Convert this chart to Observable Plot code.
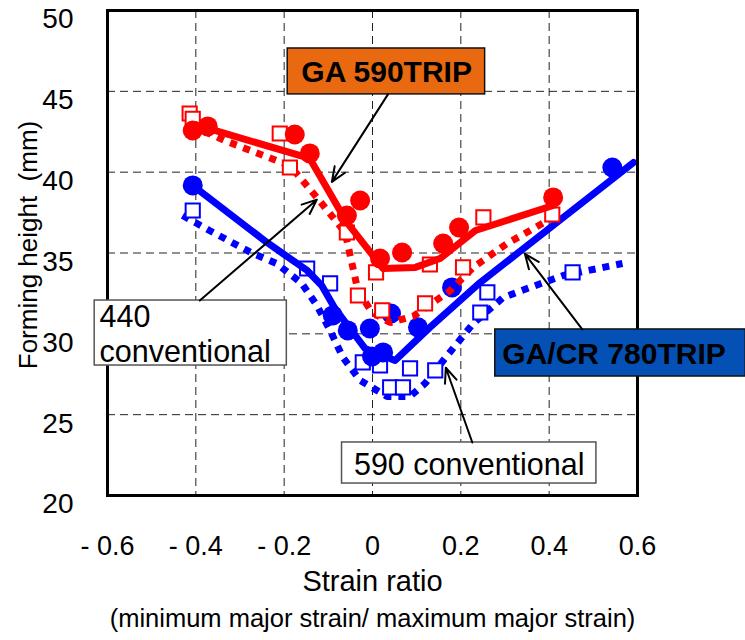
<!DOCTYPE html>
<html>
<head>
<meta charset="utf-8">
<script src="https://cdn.jsdelivr.net/npm/d3@7"></script>
<script src="https://cdn.jsdelivr.net/npm/@observablehq/plot@0.6"></script>
<style>
  html, body { margin: 0; padding: 0; background: #fff; }
  #chart { width: 745px; height: 640px; }
</style>
</head>
<body>
<div id="chart"></div>
<script>
// ---- Axis ticks ----
const xTicks = [-0.6, -0.4, -0.2, 0, 0.2, 0.4, 0.6];
const xTickLabels = ["- 0.6", "- 0.4", "- 0.2", "0", "0.2", "0.4", "0.6"];
const yTicks = [20, 25, 30, 35, 40, 45, 50];

// ---- GA 590TRIP (red, filled circles + solid trend line) ----
const ga590PointsX = [-0.407, -0.373, -0.176, -0.142, -0.058, -0.028, 0.017, 0.067, 0.160, 0.196, 0.409];
const ga590PointsY = [42.58, 42.83, 42.33, 41.16, 37.32, 38.25, 34.66, 35.03, 35.59, 36.58, 38.44];
const ga590LineX = [-0.403, -0.142, -0.058, 0.024, 0.097, 0.153, 0.233, 0.409];
const ga590LineY = [42.95, 40.85, 36.89, 34.04, 34.11, 34.66, 36.39, 37.94];

// ---- 440 conventional (red, open squares + dotted line) ----
const c440PointsX = [-0.414, -0.407, -0.210, -0.187, -0.058, -0.033, 0.008, 0.022, 0.119, 0.130, 0.205, 0.251, 0.407];
const c440PointsY = [43.63, 43.30, 42.39, 40.29, 36.27, 32.37, 33.80, 31.45, 31.88, 34.29, 34.11, 37.20, 37.38];
const c440LineX = [-0.409, -0.335, -0.187, -0.124, -0.062, -0.033, -0.001, 0.040, 0.092, 0.176, 0.228, 0.305, 0.425];
const c440LineY = [42.89, 41.96, 40.41, 38.37, 36.27, 32.68, 31.32, 30.70, 31.08, 32.68, 34.11, 35.59, 37.45];

// ---- GA/CR 780TRIP (blue, filled circles + solid trend line) ----
const ga780PointsX = [-0.407, -0.090, -0.056, -0.006, 0.042, 0.103, -0.001, 0.024, 0.180, 0.543];
const ga780PointsY = [39.18, 31.14, 30.21, 30.33, 31.26, 30.40, 28.60, 28.85, 32.87, 40.29];
const ga780LineX = [-0.407, -0.239, -0.148, -0.115, -0.085, -0.051, -0.017, 0.051, 0.130, 0.244, 0.591];
const ga780LineY = [39.18, 35.65, 33.92, 32.99, 31.57, 30.33, 29.10, 28.35, 30.40, 33.18, 40.60];

// ---- 590 conventional (blue, open squares + dotted line) ----
const c590PointsX = [-0.407, -0.148, -0.096, -0.022, 0.017, 0.040, 0.069, 0.085, 0.142, 0.244, 0.260, 0.453];
const c590PointsY = [37.63, 34.04, 33.12, 28.23, 28.04, 26.69, 26.69, 27.86, 27.74, 31.32, 32.56, 33.80];
const c590LineX = [-0.430, -0.369, -0.271, -0.217, -0.160, -0.126, -0.096, -0.067, -0.028, 0.033, 0.085, 0.119, 0.164, 0.228, 0.296, 0.357, 0.432, 0.566];
const c590LineY = [37.32, 36.39, 34.97, 34.35, 33.12, 31.76, 30.21, 28.54, 27.12, 26.13, 26.13, 26.93, 28.48, 30.64, 32.25, 32.87, 33.61, 34.35];

// ---- Text ----
const xTitle = "Strain ratio";
const xSubtitle = "(minimum major strain/ maximum major strain)";
const yTitle = "Forming height  (mm)";

// ---- Annotation callouts (anchored in data coordinates) ----
const annotations = [
  {label: "GA 590TRIP", bold: true, fill: "#e8690f", border: "#111",
   x1: -0.192, x2: 0.255, y1: 44.81, y2: 47.65, tx: 0.032, ty: 46.23, anchor: "middle",
   ax1: 0.035, ay1: 44.81, ax2: -0.092, ay2: 39.40},
  {label: "440\nconventional", bold: false, fill: "#ffffff", border: "#555",
   x1: -0.629, x2: -0.194, y1: 28.04, y2: 32.06, tx: -0.618, ty: 30.02, anchor: "start",
   ax1: -0.391, ay1: 32.06, ax2: -0.126, ay2: 38.30},
  {label: "GA/CR 780TRIP", bold: true, fill: "#0550b4", border: "#111",
   x1: 0.278, x2: 0.845, y1: 27.36, y2: 30.27, tx: 0.294, ty: 28.82, anchor: "start",
   ax1: 0.475, ay1: 30.27, ax2: 0.345, ay2: 34.95},
  {label: "590 conventional", bold: false, fill: "#ffffff", border: "#555",
   x1: -0.069, x2: 0.507, y1: 20.74, y2: 23.28, tx: 0.219, ty: 21.98, anchor: "middle",
   ax1: 0.226, ay1: 23.28, ax2: 0.166, ay2: 27.90}
];

const zip = (xs, ys) => xs.map((x, i) => ({x, y: ys[i]}));
const ga590Pts = zip(ga590PointsX, ga590PointsY);
const ga590Line = zip(ga590LineX, ga590LineY);
const c440Pts = zip(c440PointsX, c440PointsY);
const c440Line = zip(c440LineX, c440LineY);
const ga780Pts = zip(ga780PointsX, ga780PointsY);
const ga780Line = zip(ga780LineX, ga780LineY);
const c590Pts = zip(c590PointsX, c590PointsY);
const c590Line = zip(c590LineX, c590LineY);

const RED = "#ff0000", BLUE = "#0000ff";
const font = "'Liberation Sans', Arial, Helvetica, sans-serif";

const boxMarks = annotations.map(a => Plot.rect([a], {x1: "x1", x2: "x2", y1: "y1", y2: "y2",
  fill: a.fill, stroke: a.border, strokeWidth: 1.5}));
const labelMarks = annotations.map(a => Plot.text([a], {x: "tx", y: "ty", text: "label",
  textAnchor: a.anchor, fontSize: a.bold ? 30 : 30.5, fontWeight: a.bold ? "bold" : "normal",
  fill: "#000", lineHeight: 1.15, lineAnchor: "middle"}));

const chart = Plot.plot({
  width: 745,
  height: 640,
  marginLeft: 107,
  marginRight: 108,
  marginTop: 10,
  marginBottom: 145,
  style: {fontFamily: font, background: "#fff", color: "#000"},
  x: {domain: [-0.6, 0.6]},
  y: {domain: [20, 50]},
  marks: [
    Plot.gridX(xTicks.slice(1, -1), {stroke: "#222", strokeOpacity: 1, strokeWidth: 1, strokeDasharray: "8,5"}),
    Plot.gridY(yTicks.slice(1, -1), {stroke: "#222", strokeOpacity: 1, strokeWidth: 1, strokeDasharray: "8,5"}),
    Plot.axisX(xTicks, {tickSize: 0, tickPadding: 40, fontSize: 27, label: null,
      tickFormat: d => xTickLabels[xTicks.indexOf(d)]}),
    Plot.axisY(yTicks, {tickSize: 0, tickPadding: 34, fontSize: 28, label: null, dy: 9}),
    // 590 conventional
    Plot.line(c590Line, {x: "x", y: "y", stroke: BLUE, strokeWidth: 7, strokeDasharray: "7,7", strokeLinecap: "butt", strokeLinejoin: "miter"}),
    Plot.dot(c590Pts, {x: "x", y: "y", symbol: "square", r: 8, stroke: BLUE, strokeWidth: 2, fill: "#fff"}),
    // GA/CR 780TRIP
    Plot.line(ga780Line, {x: "x", y: "y", stroke: BLUE, strokeWidth: 7}),
    Plot.dot(ga780Pts, {x: "x", y: "y", r: 10, fill: BLUE}),
    // 440 conventional
    Plot.line(c440Line, {x: "x", y: "y", stroke: RED, strokeWidth: 7, strokeDasharray: "7,7", strokeLinecap: "butt", strokeLinejoin: "miter"}),
    Plot.dot(c440Pts, {x: "x", y: "y", symbol: "square", r: 8, stroke: RED, strokeWidth: 2, fill: "#fff"}),
    // GA 590TRIP
    Plot.line(ga590Line, {x: "x", y: "y", stroke: RED, strokeWidth: 7}),
    Plot.dot(ga590Pts, {x: "x", y: "y", r: 10, fill: RED}),
    Plot.frame({stroke: "#000", strokeWidth: 3}),
    // callouts
    ...boxMarks,
    ...labelMarks,
    Plot.arrow(annotations, {x1: "ax1", y1: "ay1", x2: "ax2", y2: "ay2", stroke: "#000", strokeWidth: 2, headLength: 12, headAngle: 45}),
    // titles
    Plot.text([xTitle], {frameAnchor: "bottom", dy: 86, fontSize: 29, text: d => d, fill: "#000", textAnchor: "middle", lineAnchor: "middle"}),
    Plot.text([xSubtitle], {frameAnchor: "bottom", dy: 123, fontSize: 25.5, text: d => d, fill: "#000", textAnchor: "middle", lineAnchor: "middle"}),
    Plot.text([yTitle], {frameAnchor: "left", dx: -79, dy: -8, rotate: -90, fontSize: 26, text: d => d, fill: "#000", textAnchor: "middle", lineAnchor: "middle"})
  ]
});
document.getElementById("chart").appendChild(chart);
</script>
</body>
</html>
